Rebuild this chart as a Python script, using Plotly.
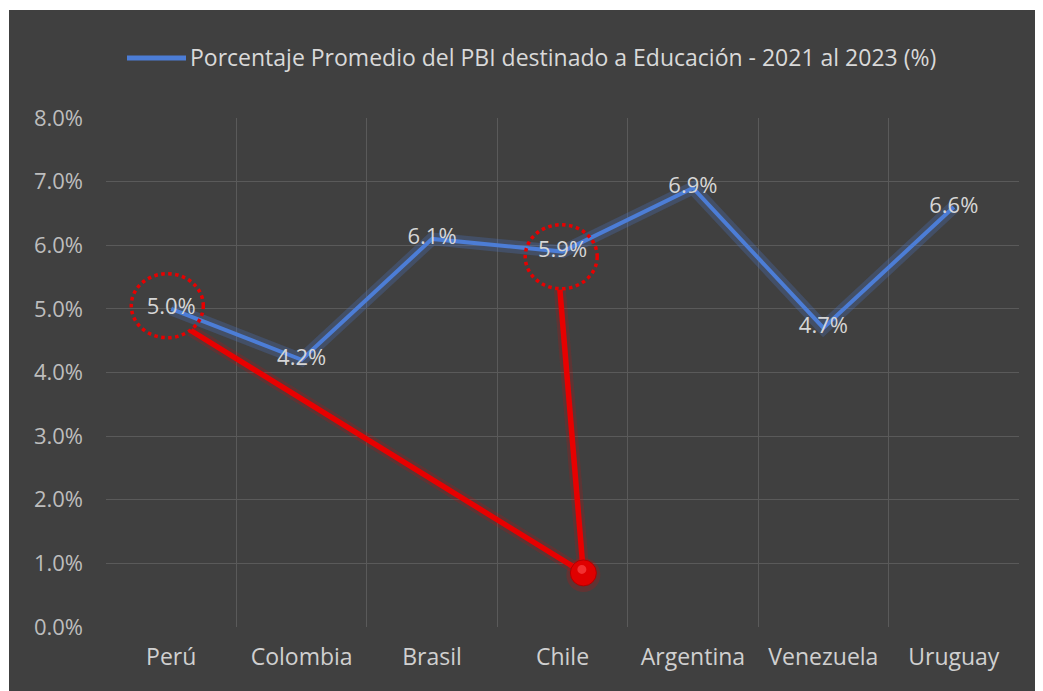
import plotly.graph_objects as go

categories = ["Perú", "Colombia", "Brasil", "Chile", "Argentina", "Venezuela", "Uruguay"]
values = [5.0, 4.2, 6.1, 5.9, 6.9, 4.7, 6.6]
y_ticks = [0, 1, 2, 3, 4, 5, 6, 7, 8]
legend_text = "Porcentaje Promedio del PBI destinado a Educación - 2021 al 2023 (%)"

# annotation anchors (category index, value)
circle_anchors = [(-0.03, 5.05), (2.99, 5.82)]
dot_anchor = (3.16, 0.85)

OFF = 8  # page body margin
W, H = 1043 - OFF, 691 - OFF
ML, MR, MT, MB = 106 - OFF, 24, 118 - OFF, 64
PW, PH = W - ML - MR, H - MT - MB

BG = "#404040"
GRID = "#5a5a5a"
BLUE = "#4c7dd6"
RED = "#e80000"
FONT = "Open Sans"
FS = 22

fig = go.Figure()
fig.add_trace(go.Scatter(
    x=categories, y=values, mode="lines",
    line=dict(color="rgba(76,125,214,0.25)", width=13),
    hoverinfo="skip", showlegend=False))
fig.add_trace(go.Scatter(
    x=categories, y=values, mode="lines+text",
    line=dict(color=BLUE, width=4),
    text=[f"{v:.1f}%" for v in values], textposition="middle center",
    textfont=dict(family=FONT, size=FS, color="#d6d6d6"),
    name=legend_text, showlegend=False))

# screen pixel -> paper coords
def px2paper_x(px):
    return (px - OFF - ML) / PW

def px2paper_y(py):
    return (H - MB - (py - OFF)) / PH

shapes = []
# white border strips
shapes.append(dict(type="rect", xref="paper", yref="paper", layer="above",
                   x0=px2paper_x(-2), x1=px2paper_x(9), y0=px2paper_y(H + 40), y1=px2paper_y(-2),
                   fillcolor="white", line=dict(width=0)))
shapes.append(dict(type="rect", xref="paper", yref="paper", layer="above",
                   x0=px2paper_x(-2), x1=px2paper_x(W + 40), y0=px2paper_y(10), y1=px2paper_y(-2),
                   fillcolor="white", line=dict(width=0)))

# red connector lines (glow + line)
peru_start = (0.15, 4.66)
chile_start = (2.98, 5.3)
for (sx, sy) in [peru_start, chile_start]:
    for w, c in [(12, "rgba(232,0,0,0.18)"), (5.5, RED)]:
        shapes.append(dict(type="line", xref="x", yref="y", layer="above",
                           x0=sx, y0=sy, x1=dot_anchor[0], y1=dot_anchor[1],
                           line=dict(color=c, width=w)))

# dotted circles
for (cx, cy) in circle_anchors:
    shapes.append(dict(type="circle", xref="x", yref="y", layer="above",
                       xsizemode="pixel", ysizemode="pixel", xanchor=cx, yanchor=cy,
                       x0=-36, x1=36, y0=-32, y1=32,
                       line=dict(color=RED, width=3.5, dash="dot")))

# red dot with soft glow
shapes.append(dict(type="circle", xref="x", yref="y", layer="above",
                   xsizemode="pixel", ysizemode="pixel", xanchor=dot_anchor[0], yanchor=dot_anchor[1],
                   x0=-17, x1=17, y0=-19, y1=15,
                   fillcolor="rgba(232,0,0,0.2)", line=dict(width=0)))
shapes.append(dict(type="circle", xref="x", yref="y", layer="above",
                   xsizemode="pixel", ysizemode="pixel", xanchor=dot_anchor[0], yanchor=dot_anchor[1],
                   x0=-13, x1=13, y0=-13, y1=13,
                   fillcolor="#e00000", line=dict(color="#b00000", width=1)))
shapes.append(dict(type="circle", xref="x", yref="y", layer="above",
                   xsizemode="pixel", ysizemode="pixel", xanchor=dot_anchor[0], yanchor=dot_anchor[1],
                   x0=-6, x1=3, y0=-1, y1=8,
                   fillcolor="#ff5050", line=dict(width=0), opacity=0.6))

# legend sample line
shapes.append(dict(type="line", xref="paper", yref="paper",
                   x0=px2paper_x(127), x1=px2paper_x(186), y0=px2paper_y(58), y1=px2paper_y(58),
                   line=dict(color=BLUE, width=5)))

annotations = [dict(xref="paper", yref="paper", x=px2paper_x(188), y=px2paper_y(57),
                    xanchor="left", yanchor="middle", showarrow=False,
                    text=legend_text, font=dict(family=FONT, size=23, color="#d9d9d9"))]

fig.update_layout(
    width=W, height=H,
    margin=dict(l=ML, r=MR, t=MT, b=MB, pad=0),
    paper_bgcolor=BG, plot_bgcolor=BG,
    shapes=shapes, annotations=annotations,
    showlegend=False,
    xaxis=dict(type="category", range=[-0.5, 6.5], tickson="boundaries",
               showgrid=True, gridcolor=GRID, gridwidth=1, ticks="", zeroline=False,
               showline=False, ticklabelstandoff=14,
               tickfont=dict(family=FONT, size=FS + 1, color="#d0d0d0")),
    yaxis=dict(range=[0, 8], tickvals=y_ticks, ticktext=[f"{t:.1f}%" for t in y_ticks],
               showgrid=True, gridcolor=GRID, gridwidth=1, zeroline=False, showline=False,
               ticklabelstandoff=22,
               tickfont=dict(family=FONT, size=FS, color="#bdbdbd")),
)

fig.write_html("out.html")
